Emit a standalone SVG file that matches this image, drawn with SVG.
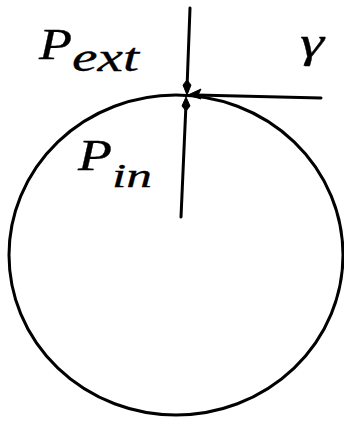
<svg xmlns="http://www.w3.org/2000/svg" width="344" height="421" viewBox="0 0 344 421">
<style>
.ln{fill:none;stroke:#000;stroke-width:3;stroke-linecap:round}
.ah{fill:#000;stroke:#000;stroke-width:1}
.lb{font-family:"Liberation Serif","Times New Roman",serif;font-style:italic;fill:#000;stroke:#000;stroke-width:0.3}
</style>
<rect width="344" height="421" fill="#fff"/>
<g id="sphere">
<ellipse class="ln" cx="176" cy="255" rx="167" ry="160"/>
</g>
<g id="connectors">
<line class="ln" x1="190" y1="8" x2="187" y2="88"/>
<polygon class="ah" points="187,95 183,85 187,80 191,85"/>
<line class="ln" x1="186" y1="104" x2="181" y2="217"/>
<polygon class="ah" points="186,97 190,106 186,111 182,106"/>
<line class="ln" x1="196" y1="95" x2="321" y2="98"/>
<polygon class="ah" points="188,95 201,89 198,95 201,99"/>
</g>
<g id="label-pext">
<text class="lb" x="39" y="59" font-size="44" textLength="33" lengthAdjust="spacingAndGlyphs">P</text>
<text class="lb" x="72" y="71" font-size="40" textLength="67" lengthAdjust="spacingAndGlyphs">ext</text>
</g>
<g id="label-pin">
<text class="lb" x="78" y="170" font-size="44" textLength="34" lengthAdjust="spacingAndGlyphs">P</text>
<text class="lb" x="112" y="187" font-size="34" textLength="40" lengthAdjust="spacingAndGlyphs">in</text>
</g>
<g id="label-gamma">
<text class="lb" x="300" y="57" font-size="44" textLength="24" lengthAdjust="spacingAndGlyphs">γ</text>
</g>
</svg>
